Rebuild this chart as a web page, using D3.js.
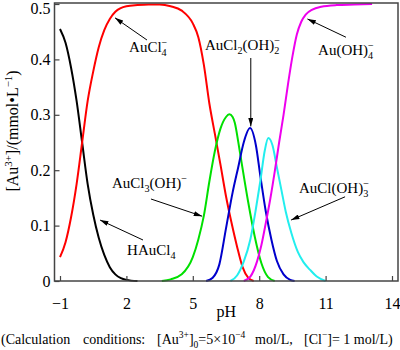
<!DOCTYPE html>
<html><head><meta charset="utf-8">
<script src="https://cdn.jsdelivr.net/npm/d3@7"></script>
<style>
body{margin:0;background:#fff;}
text{font-family:"Liberation Serif","Times New Roman",serif;fill:#000;}
</style></head>
<body><svg id="c" width="400" height="350"></svg>
<script>
// ---- data ----
const xTicks = [-1, 2, 5, 8, 11, 14];
const yTicks = [0, 0.1, 0.2, 0.3, 0.4, 0.5];
const yTickLabels = ["0", "0.1", "0.2", "0.3", "0.4", "0.5"];

const pH_HAuCl4 = [-1, -0.75, -0.5, -0.25, 0, 0.25, 0.5, 0.75, 1.0, 1.25, 1.5, 1.75, 2.0, 2.5];
const v_HAuCl4  = [0.455, 0.43, 0.385, 0.325, 0.25, 0.175, 0.12, 0.078, 0.047, 0.025, 0.012, 0.005, 0.002, 0];

const pH_AuCl4 = [-1, -0.75, -0.5, -0.25, 0, 0.25, 0.5, 0.75, 1.0, 1.25, 1.5, 2.0, 2.5, 3.0, 3.5, 4.0, 4.5, 5.0, 5.25, 5.5, 5.75, 6.0, 6.25, 6.5, 6.75, 7.0, 7.25, 7.5, 7.75];
const v_AuCl4  = [0.043, 0.07, 0.115, 0.175, 0.25, 0.325, 0.378, 0.422, 0.453, 0.473, 0.486, 0.496, 0.498, 0.499, 0.499, 0.496, 0.488, 0.465, 0.44, 0.39, 0.32, 0.265, 0.21, 0.153, 0.105, 0.062, 0.025, 0.006, 0];

const pH_AuCl3OH = [3.6, 4.0, 4.5, 5.0, 5.25, 5.5, 5.75, 6.0, 6.25, 6.5, 6.65, 6.8, 6.9, 7.05, 7.2, 7.5, 7.8, 8.1, 8.4, 8.7];
const v_AuCl3OH  = [0, 0.003, 0.012, 0.043, 0.075, 0.118, 0.18, 0.235, 0.275, 0.296, 0.301, 0.296, 0.285, 0.252, 0.215, 0.143, 0.08, 0.032, 0.007, 0];

const pH_AuCl2OH2 = [5.6, 5.9, 6.2, 6.5, 6.8, 7.05, 7.3, 7.585, 7.85, 8.05, 8.3, 8.55, 8.8, 9.1, 9.4, 9.6];
const v_AuCl2OH2  = [0, 0.006, 0.03, 0.095, 0.16, 0.205, 0.25, 0.276, 0.245, 0.19, 0.125, 0.075, 0.036, 0.012, 0.002, 0];

const pH_AuClOH3 = [6.7, 7.0, 7.3, 7.6, 7.85, 8.05, 8.25, 8.41, 8.6, 8.8, 9.0, 9.2, 9.45, 9.75, 10.0, 10.3, 10.6, 11.0];
const v_AuClOH3  = [0, 0.01, 0.035, 0.075, 0.13, 0.18, 0.235, 0.258, 0.245, 0.205, 0.165, 0.125, 0.087, 0.052, 0.034, 0.02, 0.008, 0];

const pH_AuOH4 = [7.3, 7.6, 7.9, 8.1, 8.3, 8.5, 8.7, 8.9, 9.1, 9.3, 9.5, 9.7, 9.9, 10.1, 10.4, 10.8, 11.5, 12.3, 13.1];
const v_AuOH4  = [0, 0.008, 0.035, 0.065, 0.105, 0.148, 0.197, 0.25, 0.3, 0.355, 0.405, 0.445, 0.468, 0.481, 0.49, 0.495, 0.498, 0.499, 0.5];

const seriesColors = ["#000000", "#ff0000", "#00e000", "#0000cc", "#22eeee", "#ee00ee"];

// ---- chart ----
const svg = d3.select("#c");
const x = d3.scaleLinear().domain([-1, 14]).range([60, 392]);
const y = d3.scaleLinear().domain([0, 0.5]).range([281, 4]);
const frame = {l: 54.5, r: 398, t: 3, b: 281};

const series = [
  [pH_HAuCl4, v_HAuCl4], [pH_AuCl4, v_AuCl4], [pH_AuCl3OH, v_AuCl3OH],
  [pH_AuCl2OH2, v_AuCl2OH2], [pH_AuClOH3, v_AuClOH3], [pH_AuOH4, v_AuOH4]
];
const line = d3.line().x(d => x(d[0])).y(d => y(d[1])).curve(d3.curveMonotoneX);
series.forEach((s, i) => {
  const pts = s[0].map((p, j) => [p, s[1][j]]);
  svg.append("path").attr("d", line(pts)).attr("fill", "none")
    .attr("stroke", seriesColors[i]).attr("stroke-width", 2);
});

// frame
svg.append("rect").attr("x", frame.l).attr("y", frame.t)
  .attr("width", frame.r - frame.l).attr("height", frame.b - frame.t)
  .attr("fill", "none").attr("stroke", "#444").attr("stroke-width", 1.5);

// axes (inner ticks)
const xAxis = d3.axisBottom(x).tickValues(xTicks).tickSizeInner(-5).tickSizeOuter(0).tickFormat(d => d < 0 ? "\u2212" + (-d) : String(d));
const gx = svg.append("g").attr("transform", `translate(0,${frame.b})`).call(xAxis)
  .attr("font-family", null).attr("font-size", null);
gx.select(".domain").remove();
gx.selectAll(".tick line").attr("stroke", "#444").attr("stroke-width", 1.2);
gx.selectAll(".tick text").attr("y", 17).style("font-size", "16px");

const yAxis = d3.axisLeft(y).tickValues(yTicks).tickSizeInner(-5).tickSizeOuter(0).tickFormat((d, i) => yTickLabels[i]);
const gy = svg.append("g").attr("transform", `translate(${frame.l},0)`).call(yAxis)
  .attr("font-family", null).attr("font-size", null);
gy.select(".domain").remove();
gy.selectAll(".tick line").attr("stroke", "#444").attr("stroke-width", 1.2);
gy.selectAll(".tick text").attr("x", -4).style("font-size", "16px")
  .attr("dy", (d, i) => i === yTicks.length - 1 ? "0.62em" : "0.32em");

// rich text helper: parts are {n:text} or {sub:..., sup:...}
function rich(g, x0, y0, parts, size) {
  let cx = x0;
  parts.forEach(p => {
    if (p.n !== undefined) {
      const t = g.append("text").attr("x", cx).attr("y", y0).style("font-size", size + "px").text(p.n);
      cx += t.node().getComputedTextLength();
    } else {
      let w = 0;
      if (p.sub !== undefined) {
        const t = g.append("text").attr("x", cx).attr("y", y0 + size * 0.28).style("font-size", (size * 0.68) + "px").text(p.sub);
        w = Math.max(w, t.node().getComputedTextLength());
      }
      if (p.sup !== undefined) {
        const t = g.append("text").attr("x", cx).attr("y", y0 - size * 0.4).style("font-size", (size * 0.68) + "px").text(p.sup);
        w = Math.max(w, t.node().getComputedTextLength());
      }
      cx += w;
    }
  });
  return cx - x0;
}

// labels & arrows in data coordinates
const labels = [
  {pH: 2.12, v: 0.413, parts: [{n: "AuCl"}, {sub: "4", sup: "\u2212"}], arrow: [2.93, 0.435, 1.485, 0.475]},
  {pH: 5.55, v: 0.417, parts: [{n: "AuCl"}, {sub: "2"}, {n: "(OH)"}, {sub: "2", sup: "\u2212"}], arrow: [7.62, 0.4025, 7.62, 0.279]},
  {pH: 10.66, v: 0.408, parts: [{n: "Au(OH)"}, {sub: "4", sup: "\u2212"}], arrow: [11.92, 0.44, 10.18, 0.473]},
  {pH: 1.35, v: 0.168, parts: [{n: "AuCl"}, {sub: "3"}, {n: "(OH)"}, {sup: "\u2212"}], arrow: [3.11, 0.148, 5.42, 0.117]},
  {pH: 2.03, v: 0.047, parts: [{n: "HAuCl"}, {sub: "4"}], arrow: [2.75, 0.074, 0.81, 0.11]},
  {pH: 9.8, v: 0.159, parts: [{n: "AuCl(OH)"}, {sub: "3", sup: "\u2212"}], arrow: [11.88, 0.152, 9.44, 0.11]}
];

svg.append("defs").append("marker").attr("id", "ah").attr("viewBox", "0 0 10 6")
  .attr("refX", 10).attr("refY", 3).attr("markerWidth", 9).attr("markerHeight", 5)
  .attr("markerUnits", "userSpaceOnUse").attr("orient", "auto")
  .append("path").attr("d", "M0,0 L10,3 L0,6 Z").attr("fill", "#000");

const ga = svg.append("g");
labels.forEach(l => {
  rich(ga, x(l.pH), y(l.v), l.parts, 15);
  const a = l.arrow;
  ga.append("line").attr("x1", x(a[0])).attr("y1", y(a[1])).attr("x2", x(a[2])).attr("y2", y(a[3]))
    .attr("stroke", "#000").attr("stroke-width", 1).attr("marker-end", "url(#ah)");
});

// x axis title, placed inside the bottom axis group
gx.append("text").attr("class", "xtitle")
  .attr("x", (frame.l + frame.r) / 2).attr("y", 36)
  .attr("text-anchor", "middle").attr("fill", "#000")
  .style("font-size", "16px").style("font-family", "'Liberation Serif', serif")
  .text("pH");

const gyl = svg.append("g");
const gyi = gyl.append("g");
const wyl = rich(gyi, 0, 0, [{n: "[Au"}, {sup: "3+"}, {n: "]/(mmol\u2022L"}, {sup: "\u22121"}, {n: ")"}], 16);
gyl.attr("transform", `translate(18,131) rotate(-90)`);
gyi.attr("transform", `translate(${-wyl / 2},0)`);

// calculation conditions note
const gn = svg.append("g");
const ny = 344, ns = 14;
rich(gn, 1, ny, [{n: "(Calculation"}], ns);
rich(gn, 83, ny, [{n: "conditions:"}], ns);
rich(gn, 157, ny, [{n: "[Au"}, {sup: "3+"}, {n: "]"}, {sub: "0"}, {n: "=5\u00d710"}, {sup: "\u22124"}], ns);
rich(gn, 255, ny, [{n: "mol/L,"}], ns);
rich(gn, 304, ny, [{n: "[Cl"}, {sup: "\u2212"}, {n: "]= 1 mol/L)"}], ns);
</script></body></html>
